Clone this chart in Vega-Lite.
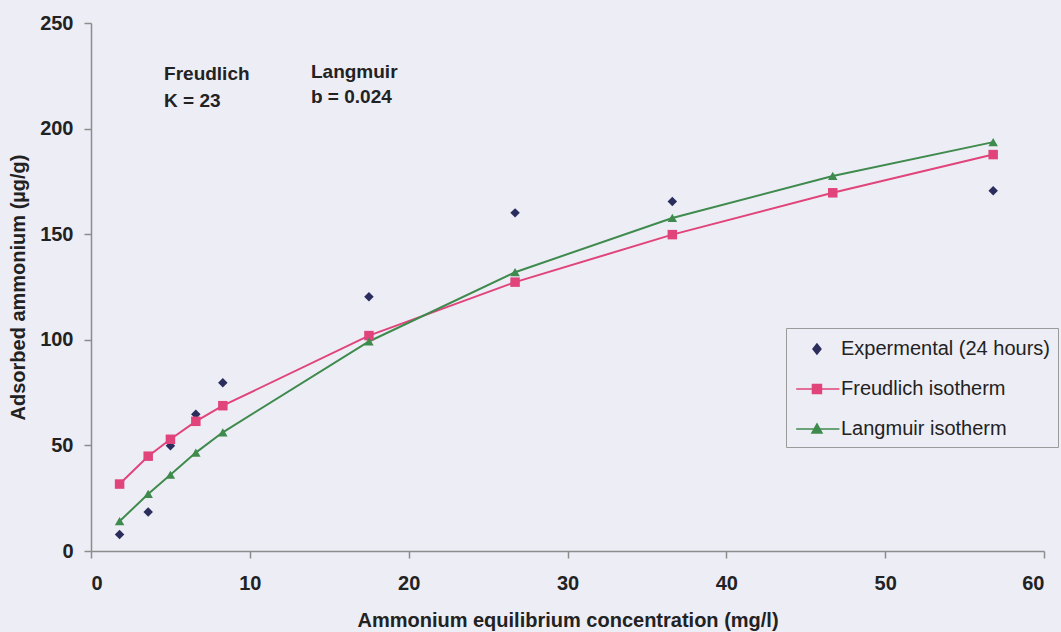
{
  "$schema": "https://vega.github.io/schema/vega-lite/v6.json",
  "width": 953,
  "height": 528,
  "autosize": {"type": "none"},
  "padding": {"left": 91, "top": 23, "right": 17, "bottom": 81},
  "background": "#ededf6",
  "config": {
    "view": {"stroke": null},
    "font": "Liberation Sans",
    "axis": {
      "grid": false,
      "domainColor": "#8c8c8c",
      "domainWidth": 1.5,
      "tickColor": "#8c8c8c",
      "tickWidth": 1.5,
      "tickSize": 7,
      "labelFont": "Liberation Sans",
      "labelFontSize": 20,
      "labelFontWeight": "bold",
      "labelColor": "#222222",
      "titleFont": "Liberation Sans",
      "titleFontSize": 20,
      "titleFontWeight": "bold",
      "titleColor": "#222222"
    }
  },
  "datasets": {
    "adsorption": [
      {"series": "Expermental (24 hours)", "conc": 1.8, "ads": 7.8},
      {"series": "Expermental (24 hours)", "conc": 3.6, "ads": 18.5},
      {"series": "Expermental (24 hours)", "conc": 5.0, "ads": 49.8},
      {"series": "Expermental (24 hours)", "conc": 6.6, "ads": 64.8},
      {"series": "Expermental (24 hours)", "conc": 8.3, "ads": 79.7},
      {"series": "Expermental (24 hours)", "conc": 17.5, "ads": 120.4},
      {"series": "Expermental (24 hours)", "conc": 26.7, "ads": 160.1},
      {"series": "Expermental (24 hours)", "conc": 36.6, "ads": 165.5},
      {"series": "Expermental (24 hours)", "conc": 56.8, "ads": 170.6},
      {"series": "Freudlich isotherm", "conc": 1.8, "ads": 31.7},
      {"series": "Freudlich isotherm", "conc": 3.6, "ads": 44.9},
      {"series": "Freudlich isotherm", "conc": 5.0, "ads": 52.9},
      {"series": "Freudlich isotherm", "conc": 6.6, "ads": 61.4},
      {"series": "Freudlich isotherm", "conc": 8.3, "ads": 68.8},
      {"series": "Freudlich isotherm", "conc": 17.5, "ads": 102.0},
      {"series": "Freudlich isotherm", "conc": 26.7, "ads": 127.3},
      {"series": "Freudlich isotherm", "conc": 36.6, "ads": 149.8},
      {"series": "Freudlich isotherm", "conc": 46.7, "ads": 169.6},
      {"series": "Freudlich isotherm", "conc": 56.8, "ads": 187.7},
      {"series": "Langmuir isotherm", "conc": 1.8, "ads": 14.1},
      {"series": "Langmuir isotherm", "conc": 3.6, "ads": 27.0},
      {"series": "Langmuir isotherm", "conc": 5.0, "ads": 36.1},
      {"series": "Langmuir isotherm", "conc": 6.6, "ads": 46.6},
      {"series": "Langmuir isotherm", "conc": 8.3, "ads": 56.2},
      {"series": "Langmuir isotherm", "conc": 17.5, "ads": 99.2},
      {"series": "Langmuir isotherm", "conc": 26.7, "ads": 132.0},
      {"series": "Langmuir isotherm", "conc": 36.6, "ads": 157.7},
      {"series": "Langmuir isotherm", "conc": 46.7, "ads": 177.6},
      {"series": "Langmuir isotherm", "conc": 56.8, "ads": 193.6}
    ],
    "notes": [
      {"conc": 4.6, "ads": 223.0, "label": "Freudlich"},
      {"conc": 4.6, "ads": 210.2, "label": "K =  23"},
      {"conc": 13.85, "ads": 224.0, "label": "Langmuir"},
      {"conc": 13.85, "ads": 212.1, "label": "b =  0.024"}
    ]
  },
  "resolve": {"scale": {"color": "independent", "shape": "independent", "stroke": "independent"}},
  "layer": [
    {
      "data": {"name": "adsorption"},
      "transform": [{"filter": "datum.series !== 'Expermental (24 hours)'"}],
      "mark": {"type": "line", "strokeWidth": 2},
      "encoding": {
        "x": {"field": "conc", "type": "quantitative"},
        "y": {"field": "ads", "type": "quantitative"},
        "color": {"field": "series", "type": "nominal", "legend": null,
          "scale": {"domain": ["Expermental (24 hours)", "Freudlich isotherm", "Langmuir isotherm"],
                    "range": ["#2b2d5c", "#e0447a", "#3f8a4d"]}}
      }
    },
    {
      "data": {"name": "adsorption"},
      "mark": {"type": "point", "filled": true, "opacity": 1, "size": 90},
      "encoding": {
        "x": {"field": "conc", "type": "quantitative",
          "scale": {"domain": [0, 60], "nice": false},
          "axis": {"values": [0, 10, 20, 30, 40, 50, 60], "labelPadding": 15,
                   "title": "Ammonium equilibrium concentration (mg/l)", "titlePadding": 17}},
        "y": {"field": "ads", "type": "quantitative",
          "scale": {"domain": [0, 250], "nice": false},
          "axis": {"values": [0, 50, 100, 150, 200, 250], "labelPadding": 11,
                   "title": "Adsorbed ammonium (µg/g)", "titlePadding": 11}},
        "color": {"field": "series", "type": "nominal", "legend": null,
          "scale": {"domain": ["Expermental (24 hours)", "Freudlich isotherm", "Langmuir isotherm"],
                    "range": ["#2b2d5c", "#e0447a", "#3f8a4d"]}},
        "shape": {"field": "series", "type": "nominal", "legend": null,
          "scale": {"domain": ["Expermental (24 hours)", "Freudlich isotherm", "Langmuir isotherm"],
                    "range": ["diamond", "square", "triangle-up"]}}
      }
    },
    {
      "data": {"name": "adsorption"},
      "transform": [{"filter": "false"}],
      "mark": {"type": "point", "filled": true, "opacity": 1, "size": 576, "strokeWidth": 1.5},
      "encoding": {
        "x": {"field": "conc", "type": "quantitative"},
        "y": {"field": "ads", "type": "quantitative"},
        "color": {"field": "series", "type": "nominal",
          "scale": {"domain": ["Expermental (24 hours)", "Freudlich isotherm", "Langmuir isotherm"],
                    "range": ["#2b2d5c", "#e0447a", "#3f8a4d"]},
          "legend": {
            "title": null,
            "orient": "none",
            "legendX": 695,
            "legendY": 305,
            "padding": 8,
            "strokeColor": "#9a9a9a",
            "fillColor": "#ededf6",
            "labelFont": "Liberation Sans",
            "labelFontSize": 20,
            "labelColor": "#222222",
            "labelOffset": 21,
            "labelLimit": 400,
            "rowPadding": 17,
            "symbolSize": 576,
            "symbolStrokeWidth": 1.5
          }},
        "stroke": {"field": "series", "type": "nominal",
          "scale": {"domain": ["Expermental (24 hours)", "Freudlich isotherm", "Langmuir isotherm"],
                    "range": ["#2b2d5c", "#e0447a", "#3f8a4d"]}},
        "shape": {"field": "series", "type": "nominal",
          "scale": {"domain": ["Expermental (24 hours)", "Freudlich isotherm", "Langmuir isotherm"],
                    "range": ["M0.83,-0.42L1.16,0L0.83,0.42L0.5,0Z",
                              "M-0.9,0H2.7M0.455,-0.375H1.205V0.375H0.455Z",
                              "M-0.9,0H2.7M0.83,-0.42L1.25,0.33H0.41Z"]}}
      }
    },
    {
      "data": {"name": "notes"},
      "mark": {"type": "text", "align": "left", "baseline": "alphabetic", "font": "Liberation Sans",
               "fontSize": 19, "fontWeight": "bold", "color": "#222222"},
      "encoding": {
        "x": {"field": "conc", "type": "quantitative"},
        "y": {"field": "ads", "type": "quantitative"},
        "text": {"field": "label"}
      }
    }
  ]
}
